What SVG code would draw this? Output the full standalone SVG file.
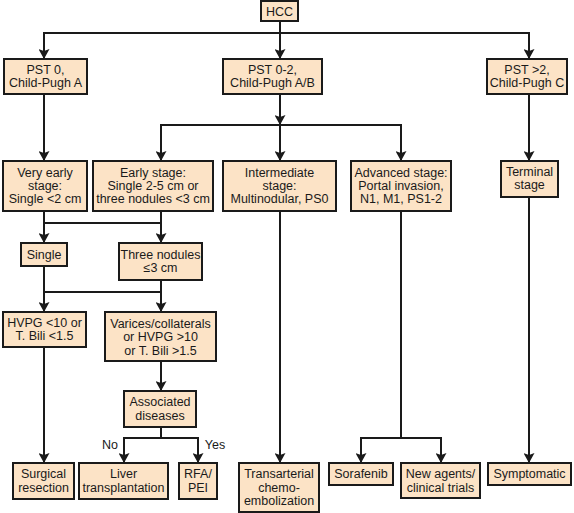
<svg xmlns="http://www.w3.org/2000/svg" width="574" height="513" viewBox="0 0 574 513">
<style>
.box rect{fill:#fce3c6;stroke:#1a1a1a;stroke-width:2}
text{font-family:"Liberation Sans",Arial,sans-serif;font-size:12.5px;fill:#1a1a1a;text-anchor:middle}
.c line,.c polyline{stroke:#1a1a1a;stroke-width:2;fill:none}
.arr{marker-end:url(#ah)}
</style>
<defs>
<marker id="ah" markerUnits="userSpaceOnUse" markerWidth="10" markerHeight="11" viewBox="0 0 10 11" refX="10" refY="5.5" orient="auto">
<path d="M0,0 L10,5.5 L0,11 L2,5.5 z" fill="#1a1a1a"/>
</marker>
</defs>
<rect width="574" height="513" fill="#ffffff"/>
<g class="c" id="connectors">
<line x1="44" y1="33" x2="529" y2="33"/>
<line class="arr" x1="280" y1="21" x2="280" y2="59"/>
<line class="arr" x1="44" y1="32" x2="44" y2="59"/>
<line class="arr" x1="529" y1="32" x2="529" y2="59"/>
<line class="arr" x1="44" y1="94" x2="44" y2="161"/>
<line class="arr" x1="280" y1="94" x2="280" y2="125"/>
<line x1="161" y1="125" x2="401" y2="125"/>
<line class="arr" x1="161" y1="124" x2="161" y2="161"/>
<line class="arr" x1="280" y1="124" x2="280" y2="161"/>
<line class="arr" x1="401" y1="124" x2="401" y2="161"/>
<line class="arr" x1="529" y1="94" x2="529" y2="161"/>
<line class="arr" x1="44" y1="211" x2="44" y2="243"/>
<line x1="161" y1="211" x2="161" y2="223"/>
<line x1="44" y1="223" x2="161" y2="223"/>
<line class="arr" x1="161" y1="222" x2="161" y2="243"/>
<line class="arr" x1="44" y1="266" x2="44" y2="312"/>
<line x1="161" y1="280" x2="161" y2="292"/>
<line x1="44" y1="292" x2="161" y2="292"/>
<line class="arr" x1="161" y1="291" x2="161" y2="312"/>
<line class="arr" x1="44" y1="347" x2="44" y2="463"/>
<line class="arr" x1="161" y1="361" x2="161" y2="391"/>
<line x1="161" y1="427" x2="161" y2="438"/>
<line x1="124" y1="438" x2="198" y2="438"/>
<line class="arr" x1="124" y1="437" x2="124" y2="463"/>
<line class="arr" x1="198" y1="437" x2="198" y2="463"/>
<line class="arr" x1="280" y1="211" x2="280" y2="463"/>
<line x1="401" y1="211" x2="401" y2="438"/>
<line x1="361" y1="438" x2="441" y2="438"/>
<line class="arr" x1="361" y1="437" x2="361" y2="463"/>
<line class="arr" x1="441" y1="437" x2="441" y2="463"/>
<line class="arr" x1="529" y1="197" x2="529" y2="463"/>
<text x="110" y="449">No</text>
<text x="215" y="449">Yes</text>
</g>
<g class="box" id="hcc"><rect x="261" y="1" width="37" height="20"/><text x="279.5" y="15.5">HCC</text></g>
<g class="box" id="pst0"><rect x="4" y="59" width="83" height="35"/><text x="45.5" y="74">PST 0,</text><text x="45.5" y="87">Child-Pugh A</text></g>
<g class="box" id="pst02"><rect x="223" y="59" width="99" height="35"/><text x="272.5" y="74">PST 0-2,</text><text x="272.5" y="87">Child-Pugh A/B</text></g>
<g class="box" id="pst2"><rect x="487" y="59" width="80" height="35"/><text x="527" y="74">PST &gt;2,</text><text x="527" y="87">Child-Pugh C</text></g>
<g class="box" id="veryearly"><rect x="3" y="161" width="84" height="50"/><text x="45" y="177">Very early</text><text x="45" y="190">stage:</text><text x="45" y="203">Single &lt;2 cm</text></g>
<g class="box" id="early"><rect x="93" y="161" width="120" height="50"/><text x="153" y="177">Early stage:</text><text x="153" y="190">Single 2-5 cm or</text><text x="153" y="203">three nodules &lt;3 cm</text></g>
<g class="box" id="intermediate"><rect x="223" y="161" width="113" height="50"/><text x="279.5" y="177">Intermediate</text><text x="279.5" y="190">stage:</text><text x="279.5" y="203">Multinodular, PS0</text></g>
<g class="box" id="advanced"><rect x="351" y="161" width="100" height="50"/><text x="401" y="177">Advanced stage:</text><text x="401" y="190">Portal invasion,</text><text x="401" y="203">N1, M1, PS1-2</text></g>
<g class="box" id="terminal"><rect x="501" y="161" width="57" height="36"/><text x="529.5" y="176">Terminal</text><text x="529.5" y="189">stage</text></g>
<g class="box" id="single"><rect x="21" y="243" width="46" height="23"/><text x="44" y="259">Single</text></g>
<g class="box" id="three"><rect x="119" y="243" width="83" height="37"/><text x="160.5" y="258.5">Three nodules</text><text x="160.5" y="272">≤3 cm</text></g>
<g class="box" id="hvpg"><rect x="3" y="312" width="83" height="35"/><text x="44.5" y="327">HVPG &lt;10 or</text><text x="44.5" y="340">T. Bili &lt;1.5</text></g>
<g class="box" id="varices"><rect x="105" y="312" width="111" height="49"/><text x="160.5" y="328">Varices/collaterals</text><text x="160.5" y="341">or HVPG &gt;10</text><text x="160.5" y="354.5">or T. Bili &gt;1.5</text></g>
<g class="box" id="assoc"><rect x="124" y="391" width="72" height="36"/><text x="160" y="406">Associated</text><text x="160" y="419.5">diseases</text></g>
<g class="box" id="surgical"><rect x="13" y="463" width="61" height="36"/><text x="43.5" y="478">Surgical</text><text x="43.5" y="491.5">resection</text></g>
<g class="box" id="liver"><rect x="79" y="463" width="89" height="36"/><text x="123.5" y="478">Liver</text><text x="123.5" y="491.5">transplantation</text></g>
<g class="box" id="rfa"><rect x="179" y="463" width="38" height="36"/><text x="198" y="478">RFA/</text><text x="198" y="491.5">PEI</text></g>
<g class="box" id="tace"><rect x="239" y="463" width="80" height="49"/><text x="279" y="478">Transarterial</text><text x="279" y="491.5">chemo-</text><text x="279" y="505">embolization</text></g>
<g class="box" id="sorafenib"><rect x="329" y="463" width="64" height="22"/><text x="361" y="478">Sorafenib</text></g>
<g class="box" id="newagents"><rect x="401" y="463" width="79" height="35"/><text x="440.5" y="478">New agents/</text><text x="440.5" y="491.5">clinical trials</text></g>
<g class="box" id="symptomatic"><rect x="488" y="463" width="83" height="22"/><text x="529.5" y="478">Symptomatic</text></g>
</svg>
